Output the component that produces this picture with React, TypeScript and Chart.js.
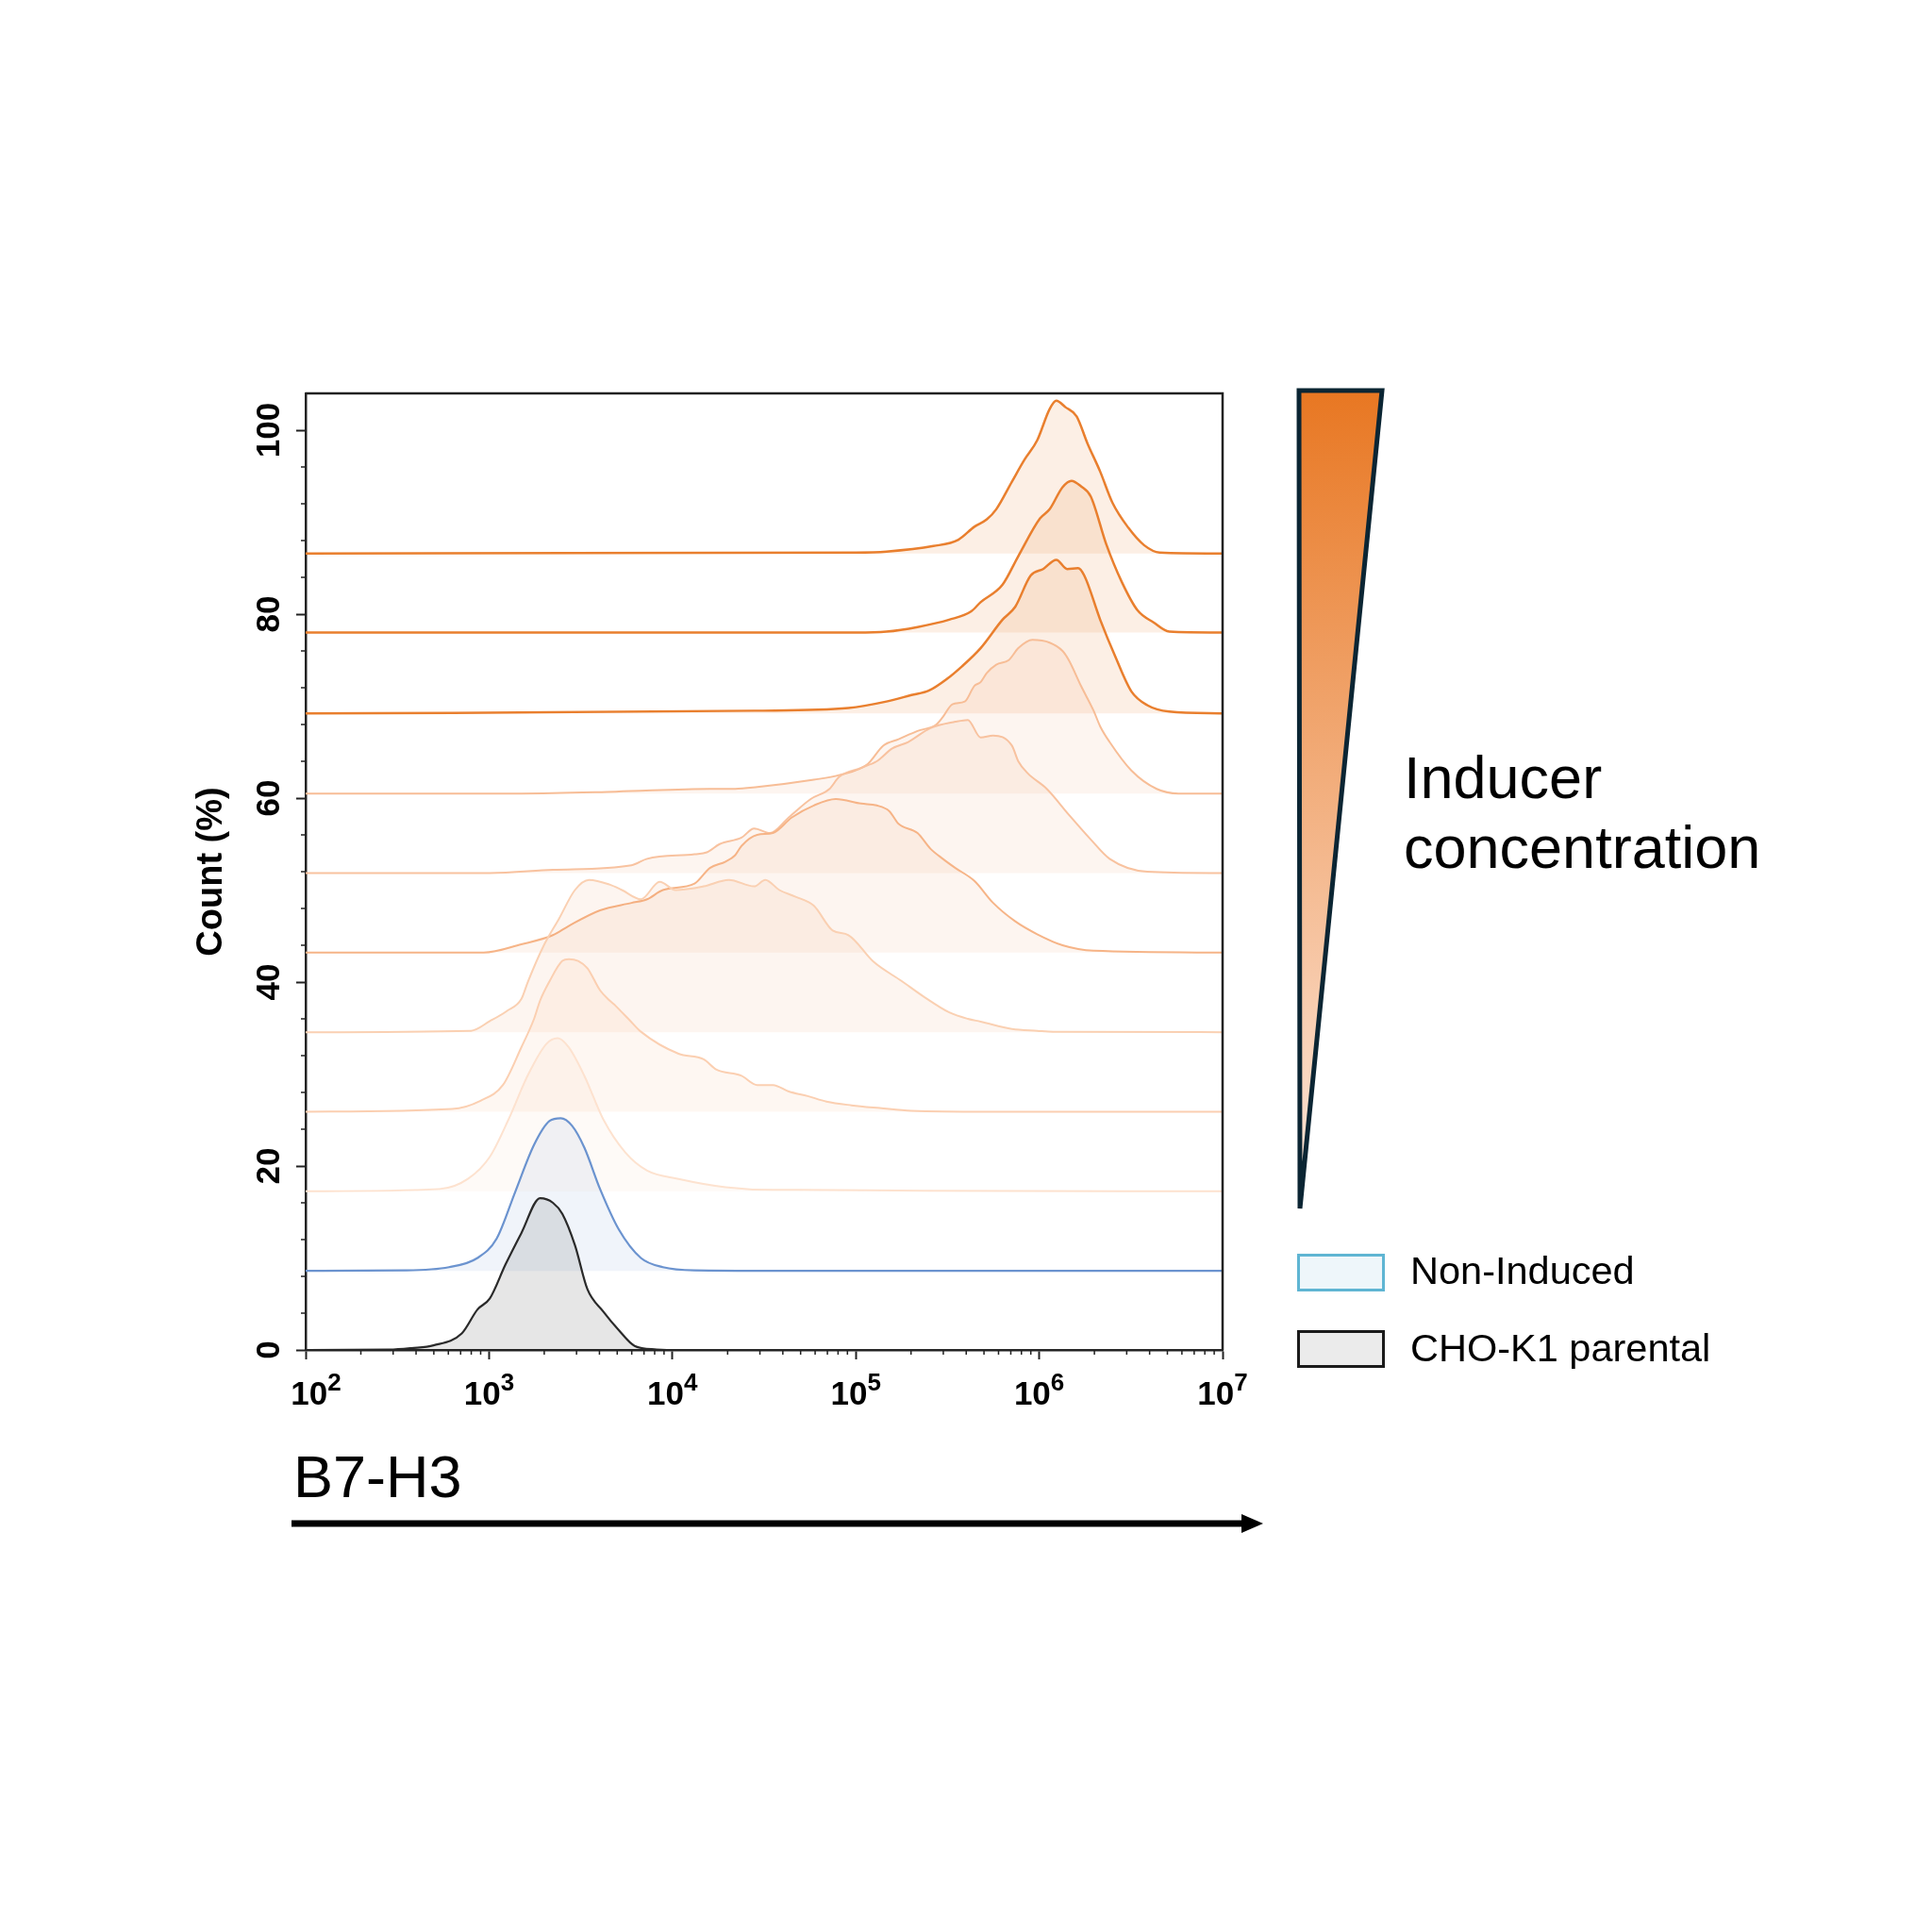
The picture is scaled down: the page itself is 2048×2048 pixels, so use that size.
import { useEffect, useRef } from "react";
import { Chart, registerables } from "chart.js";

Chart.register(...registerables);

const FONT = '"Liberation Sans", Arial, Helvetica, sans-serif';

// Each histogram: [B7-H3 intensity, count (% of mode, relative to its own baseline)]
const PARENTAL = [
  [100, 0], [286, 0.03], [378, 0.2], [498, 0.5], [710, 1.8], [865, 4.4], [1010, 5.6],
  [1230, 9.3], [1500, 12.7], [1900, 16.5], [2230, 16.0], [2510, 14.8], [2940, 11.4],
  [3440, 6.6], [4190, 4.2], [5100, 2.15], [6220, 0.44], [8200, 0.05], [9330, 0], [1e7, 0],
];
const NON_INDUCED = [
  [100, 0], [348, 0.05], [605, 0.4], [865, 1.4], [1100, 3.5], [1390, 8.6], [1760, 13.7],
  [2140, 16.3], [2460, 16.6], [2830, 15.8], [3310, 13.4], [4030, 8.9], [5100, 4.5],
  [6730, 1.4], [8870, 0.4], [13200, 0.05], [35300, 0], [1e7, 0],
];
const DOSE_1 = [
  [100, 0], [538, 0.25], [767, 1.35], [1010, 3.75], [1280, 7.85], [1630, 12.65], [2060, 16.05],
  [2370, 16.65], [2720, 15.65], [3310, 12.55], [4190, 7.85], [5520, 4.25], [7280, 2.25],
  [10800, 1.35], [19500, 0.45], [35300, 0.15], [48500, 0.15], [235000, 0.05], [1e7, 0],
];
const DOSE_2 = [
  [100, 0], [630, 0.3], [899, 1.2], [1190, 2.9], [1500, 7.0], [1760, 10.1], [1900, 12.1],
  [2140, 14.2], [2510, 16.4], [2720, 16.6], [3060, 16.4], [3440, 15.6], [4030, 13.2],
  [4540, 12.1], [4910, 11.5], [5310, 10.8], [5750, 10.1], [6730, 8.7], [10800, 6.3],
  [14800, 5.7], [17300, 4.6], [23800, 3.9], [29000, 2.9], [35300, 2.9], [43100, 2.2],
  [54600, 1.7], [69200, 1.1], [94800, 0.7], [135000, 0.4], [201000, 0.1], [518000, 0], [1e7, 0],
];
const DOSE_3 = [
  [100, 0], [798, 0.15], [1010, 1.2], [1250, 2.3], [1500, 3.6], [1630, 5.5], [1980, 9.35],
  [2410, 12.35], [2940, 15.45], [3510, 16.55], [4540, 16.05], [5310, 15.45], [6730, 14.45],
  [8530, 16.35], [10400, 15.45], [14800, 15.85], [20300, 16.55], [27900, 15.85], [32100, 16.55],
  [38300, 15.45], [46600, 14.75], [59000, 13.75], [74800, 11.05], [91200, 10.55], [125000, 7.65],
  [178000, 5.55], [235000, 3.85], [323000, 2.15], [408000, 1.45], [479000, 1.15], [710000, 0.35],
  [975000, 0.15], [1190000, 0.05], [1e7, 0],
];
const DOSE_4 = [
  [100, 0], [935, 0], [1500, 0.9], [2230, 1.9], [2720, 2.9], [4030, 4.6], [5980, 5.4],
  [7280, 5.8], [8870, 6.8], [13200, 7.5], [16000, 9.2], [19500, 9.9], [22000, 10.6],
  [23800, 11.6], [29000, 12.8], [35300, 13.0], [44800, 14.7], [59000, 16.0], [77800, 16.7],
  [107000, 16.2], [130000, 16.0], [152000, 15.4], [171000, 14.0], [217000, 13.0], [255000, 11.3],
  [298000, 10.2], [349000, 9.2], [443000, 7.8], [561000, 5.4], [740000, 3.4], [975000, 2.0],
  [1340000, 0.8], [1980000, 0.2], [1e7, 0],
];
const DOSE_5 = [
  [100, 0], [1010, 0], [2230, 0.35], [5980, 0.85], [7280, 1.55], [13200, 2.05], [15400, 2.25],
  [18100, 3.15], [23800, 3.85], [27900, 4.85], [34000, 4.35], [43100, 6.05], [56800, 8.05],
  [71900, 9.15], [81100, 10.45], [107000, 11.45], [130000, 12.15], [158000, 13.55],
  [193000, 14.25], [255000, 15.75], [349000, 16.45], [408000, 16.65], [479000, 14.75],
  [561000, 14.95], [710000, 13.85], [769000, 12.15], [865000, 10.85], [1100000, 9.15],
  [1450000, 6.35], [1910000, 3.65], [2420000, 1.55], [3880000, 0.15], [1e7, 0],
];
const DOSE_6 = [
  [100, 0], [1500, 0], [4910, 0.2], [16000, 0.5], [22000, 0.5], [29000, 0.7], [59000, 1.5],
  [81100, 2.0], [116000, 3.2], [141000, 5.2], [171000, 5.9], [217000, 6.8], [275000, 7.5],
  [298000, 8.3], [336000, 9.7], [393000, 10.0], [443000, 11.7], [479000, 12.1], [518000, 13.1],
  [583000, 14.0], [682000, 14.5], [769000, 15.8], [918000, 16.7], [1140000, 16.4],
  [1340000, 15.5], [1450000, 14.5], [1690000, 11.7], [1980000, 9.0], [2150000, 7.3],
  [2420000, 5.6], [3180000, 2.5], [4370000, 0.5], [5750000, 0], [1e7, 0],
];
const DOSE_7 = [
  [100, 0], [27900, 0.3], [91200, 0.6], [147000, 1.3], [201000, 2.0], [251000, 2.5],
  [316000, 3.8], [378000, 5.1], [479000, 7.1], [631000, 10.2], [740000, 11.6], [899000, 15.0],
  [1050000, 15.7], [1240000, 16.7], [1420000, 15.7], [1630000, 15.8], [1760000, 15.0],
  [2150000, 10.2], [2610000, 6.1], [3180000, 2.4], [3880000, 0.9], [5120000, 0.2], [1e7, 0],
];
const DOSE_8 = [
  [100, 0], [100000, 0], [147000, 0.1], [217000, 0.6], [323000, 1.4], [426000, 2.3],
  [479000, 3.3], [631000, 5.2], [769000, 8.3], [1010000, 12.4], [1140000, 13.4],
  [1340000, 15.8], [1500000, 16.5], [1690000, 15.9], [1910000, 14.8], [2320000, 9.6],
  [2820000, 5.5], [3440000, 2.4], [4200000, 1.1], [5120000, 0.1], [1e7, 0],
];
const DOSE_9 = [
  [100, 0], [100000, 0.1], [147000, 0.2], [265000, 0.8], [363000, 1.5], [443000, 2.9],
  [518000, 3.7], [583000, 4.8], [710000, 7.8], [832000, 10.2], [975000, 12.3], [1140000, 15.7],
  [1240000, 16.6], [1390000, 15.9], [1600000, 14.9], [1830000, 12.0], [2150000, 8.9],
  [2510000, 5.5], [3060000, 2.8], [3730000, 0.9], [4540000, 0.1], [1e7, 0],
];

// front (bottom) to back (top)
const SERIES = [PARENTAL, NON_INDUCED, DOSE_1, DOSE_2, DOSE_3, DOSE_4, DOSE_5, DOSE_6, DOSE_7, DOSE_8, DOSE_9];
const OFFSETS = [0, 8.6, 17.25, 25.9, 34.55, 43.2, 51.85, 60.5, 69.2, 78.0, 86.6];
const LINE_COLORS = [
  "#2a2a2a", "#6b93cf", "#fde2cf", "#fbcfb1", "#fad0b2", "#f6b487",
  "#f8c29f", "#f7bd96", "#e97f2e", "#e97f2e", "#e97f2e",
];
const FILL_COLORS = [
  "rgba(60,60,60,0.13)", "rgba(110,150,210,0.1)", "rgba(232,120,40,0.04)",
  "rgba(232,120,40,0.06)", "rgba(232,120,40,0.07)", "rgba(232,120,40,0.07)",
  "rgba(232,120,40,0.07)", "rgba(232,120,40,0.07)", "rgba(232,120,40,0.12)",
  "rgba(232,120,40,0.12)", "rgba(232,120,40,0.12)",
];
const LINE_WIDTHS = [2.2, 2.2, 2, 2, 2, 2, 2, 2, 2.5, 2.5, 2.5];

const X_DECADES = [2, 3, 4, 5, 6, 7];
const Y_TICKS = [0, 20, 40, 60, 80, 100];

const AXIS = "#222";

// frame, minor ticks and the 10^n / rotated tick labels
const axisDecor = {
  id: "axisDecor",
  afterDraw(chart: any) {
    const { ctx, chartArea: a, scales } = chart;
    const x = scales.x;
    const y = scales.y;
    ctx.save();
    ctx.strokeStyle = AXIS;
    ctx.lineWidth = 2.5;
    ctx.beginPath();
    ctx.moveTo(a.left, a.top);
    ctx.lineTo(a.right, a.top);
    ctx.lineTo(a.right, a.bottom);
    ctx.stroke();

    ctx.lineWidth = 1.5;
    ctx.beginPath();
    for (let p = 2; p < 7; p++) {
      for (let k = 2; k < 10; k++) {
        const px = x.getPixelForValue(k * 10 ** p);
        ctx.moveTo(px, a.bottom);
        ctx.lineTo(px, a.bottom + 5);
      }
    }
    for (let v = 4; v < 104; v += 4) {
      if (v % 20 === 0) continue;
      const py = y.getPixelForValue(v);
      ctx.moveTo(a.left - 5, py);
      ctx.lineTo(a.left, py);
    }
    ctx.stroke();

    ctx.fillStyle = "#000";
    ctx.textAlign = "left";
    ctx.textBaseline = "alphabetic";
    X_DECADES.forEach((p, i) => {
      const px = x.getPixelForValue(10 ** p) + (i === 0 ? 11 : 0);
      ctx.font = `bold 35px ${FONT}`;
      const wBase = ctx.measureText("10").width;
      ctx.font = `bold 26px ${FONT}`;
      const wExp = ctx.measureText(String(p)).width;
      const x0 = px - (wBase + wExp) / 2;
      ctx.font = `bold 35px ${FONT}`;
      ctx.fillText("10", x0, a.bottom + 58);
      ctx.font = `bold 26px ${FONT}`;
      ctx.fillText(String(p), x0 + wBase, a.bottom + 43);
    });

    ctx.font = `bold 35px ${FONT}`;
    ctx.textAlign = "center";
    Y_TICKS.forEach((v) => {
      const py = y.getPixelForValue(v);
      ctx.save();
      ctx.translate(a.left - 28, py);
      ctx.rotate(-Math.PI / 2);
      ctx.fillText(String(v), 0, 0);
      ctx.restore();
    });
    ctx.restore();
  },
};

function Histograms() {
  const canvasRef = useRef<HTMLCanvasElement>(null);

  useEffect(() => {
    const canvas = canvasRef.current;
    if (!canvas) return;

    const chart = new Chart(canvas, {
      type: "line",
      data: {
        datasets: SERIES.map((pts, i) => ({
          data: pts.map(([vx, c]) => ({ x: vx, y: OFFSETS[i] + c })),
          borderColor: LINE_COLORS[i],
          borderWidth: LINE_WIDTHS[i],
          backgroundColor: FILL_COLORS[i],
          fill: { value: OFFSETS[i] },
          pointRadius: 0,
          cubicInterpolationMode: "monotone" as const,
        })),
      },
      options: {
        responsive: false,
        animation: false,
        devicePixelRatio: 1,
        layout: { padding: { left: 0, top: 417, right: 752, bottom: 557 } },
        plugins: {
          legend: { display: false },
          tooltip: { enabled: false },
        },
        scales: {
          x: {
            type: "logarithmic",
            min: 100,
            max: 1e7,
            afterBuildTicks: (s: any) => {
              s.ticks = X_DECADES.map((p) => ({ value: 10 ** p }));
            },
            afterFit: (s: any) => {
              s.height = 60;
            },
            ticks: { display: false },
            grid: { drawOnChartArea: false, tickLength: 10, tickWidth: 2, tickColor: AXIS },
            border: { color: AXIS, width: 2.5 },
          },
          y: {
            type: "linear",
            min: 0,
            max: 104,
            afterBuildTicks: (s: any) => {
              s.ticks = Y_TICKS.map((v) => ({ value: v }));
            },
            afterFit: (s: any) => {
              s.width = 324;
            },
            ticks: { display: false },
            grid: { drawOnChartArea: false, tickLength: 10, tickWidth: 2, tickColor: AXIS },
            border: { color: AXIS, width: 2.5 },
            title: {
              display: true,
              text: "Count (%)",
              color: "#000",
              font: { family: FONT, size: 38, weight: "bold" },
              padding: { top: 202, bottom: 0 },
            },
          },
        },
      },
      plugins: [axisDecor],
    });

    return () => chart.destroy();
  }, []);

  return (
    <canvas
      ref={canvasRef}
      width={2048}
      height={2048}
      style={{ position: "absolute", left: 0, top: 0, width: 2048, height: 2048 }}
    />
  );
}

const textStyle = (left: number, baseline: number, size: number) => ({
  position: "absolute" as const,
  left,
  top: baseline - 0.8465 * size,
  fontSize: size,
  lineHeight: `${size}px`,
  whiteSpace: "nowrap" as const,
  color: "#000",
});

export default function App() {
  return (
    <div
      style={{
        position: "absolute",
        left: 0,
        top: 0,
        width: 2048,
        height: 2048,
        background: "#fff",
        fontFamily: FONT,
        overflow: "hidden",
      }}
    >
      <Histograms />
      <svg width={2048} height={2048} style={{ position: "absolute", left: 0, top: 0 }}>
        <defs>
          <linearGradient id="dose" x1="0" y1="0" x2="0" y2="1">
            <stop offset="0" stopColor="#e87722" />
            <stop offset="1" stopColor="#fde9de" />
          </linearGradient>
        </defs>
        <polygon
          points="1377,414 1465,414 1378,1281"
          fill="url(#dose)"
          stroke="#0b2533"
          strokeWidth={5}
        />
        <line x1={309} y1={1615} x2={1320} y2={1615} stroke="#000" strokeWidth={7} />
        <polygon points="1316,1605 1339,1615 1316,1625" fill="#000" />
      </svg>
      <div style={textStyle(1488, 846.4, 63)}>Inducer</div>
      <div style={textStyle(1488, 920.7, 63)}>concentration</div>
      <div
        style={{
          position: "absolute",
          left: 1375,
          top: 1329,
          width: 93,
          height: 40,
          boxSizing: "border-box",
          border: "3px solid #5fb5d3",
          background: "#eef6fa",
        }}
      />
      <div
        style={{
          position: "absolute",
          left: 1375,
          top: 1410,
          width: 93,
          height: 40,
          boxSizing: "border-box",
          border: "3px solid #1a1a1a",
          background: "#ebebeb",
        }}
      />
      <div style={textStyle(1495, 1360.7, 41.5)}>Non-Induced</div>
      <div style={textStyle(1495, 1443.3, 41.5)}>CHO-K1 parental</div>
      <div style={textStyle(311, 1587, 63)}>B7-H3</div>
    </div>
  );
}
